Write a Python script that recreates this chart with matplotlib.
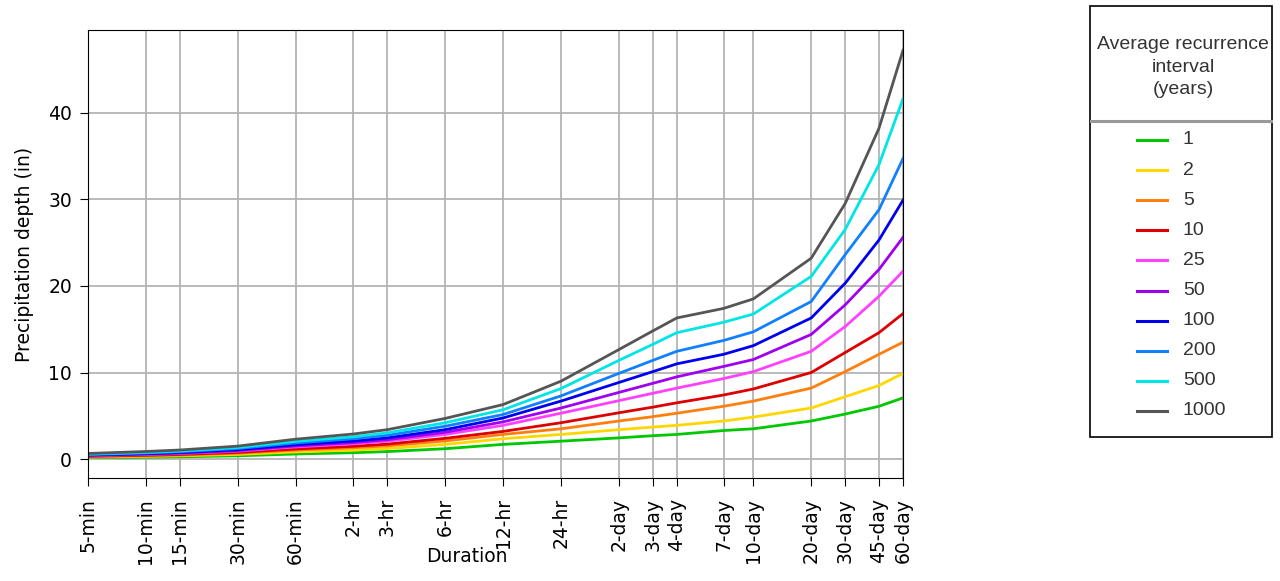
import numpy as np
import matplotlib.pyplot as plt
from matplotlib.lines import Line2D
from matplotlib.patches import Rectangle
from matplotlib.ticker import NullLocator

# durations in minutes
durations = [5, 10, 15, 30, 60, 120, 180, 360, 720, 1440,
             2880, 4320, 5760, 10080, 14400, 28800, 43200, 64800, 86400]
dur_labels = ["5-min", "10-min", "15-min", "30-min", "60-min", "2-hr", "3-hr",
              "6-hr", "12-hr", "24-hr", "2-day", "3-day", "4-day", "7-day",
              "10-day", "20-day", "30-day", "45-day", "60-day"]

ari = ["1", "2", "5", "10", "25", "50", "100", "200", "500", "1000"]

depth_1 = [0.17, 0.22, 0.27, 0.38, 0.59, 0.74, 0.87, 1.2, 1.7, 2.07,
           2.45, 2.7, 2.85, 3.3, 3.5, 4.4, 5.2, 6.1, 7.07]
depth_2 = [0.23, 0.32, 0.38, 0.54, 0.83, 1.04, 1.22, 1.7, 2.35, 2.85,
           3.4, 3.7, 3.9, 4.4, 4.85, 5.9, 7.2, 8.5, 9.9]
depth_5 = [0.29, 0.40, 0.47, 0.68, 1.04, 1.31, 1.53, 2.1, 2.85, 3.5,
           4.4, 4.9, 5.3, 6.1, 6.7, 8.2, 10.1, 12.1, 13.5]
depth_10 = [0.33, 0.45, 0.54, 0.77, 1.17, 1.48, 1.73, 2.4, 3.2, 4.2,
            5.35, 6.0, 6.5, 7.4, 8.1, 10.0, 12.3, 14.6, 16.8]
depth_25 = [0.40, 0.54, 0.64, 0.92, 1.40, 1.77, 2.07, 2.85, 3.9, 5.3,
            6.75, 7.6, 8.2, 9.3, 10.1, 12.45, 15.3, 18.8, 21.7]
depth_50 = [0.43, 0.58, 0.69, 0.99, 1.52, 1.91, 2.24, 3.1, 4.3, 5.9,
            7.7, 8.75, 9.5, 10.7, 11.5, 14.4, 17.8, 21.9, 25.6]
depth_100 = [0.47, 0.63, 0.76, 1.08, 1.66, 2.09, 2.45, 3.4, 4.75, 6.7,
             8.85, 10.1, 11.0, 12.1, 13.1, 16.3, 20.3, 25.3, 29.9]
depth_200 = [0.53, 0.71, 0.85, 1.22, 1.86, 2.35, 2.75, 3.8, 5.15, 7.3,
             9.9, 11.4, 12.45, 13.7, 14.7, 18.2, 23.6, 28.8, 34.7]
depth_500 = [0.58, 0.78, 0.93, 1.34, 2.05, 2.58, 3.03, 4.2, 5.7, 8.15,
             11.4, 13.25, 14.6, 15.8, 16.75, 21.1, 26.5, 34.0, 41.6]
depth_1000 = [0.65, 0.88, 1.05, 1.5, 2.3, 2.9, 3.4, 4.7, 6.3, 9.0,
              12.65, 14.8, 16.3, 17.4, 18.5, 23.2, 29.5, 38.2, 47.2]

series = [depth_1, depth_2, depth_5, depth_10, depth_25, depth_50,
          depth_100, depth_200, depth_500, depth_1000]
colors = ["#00c800", "#ffd700", "#ff7f0e", "#dd0000", "#ff40ff",
          "#a000f0", "#0000ee", "#1080ff", "#00e5e5", "#555555"]

W, H = 1280, 581
fig = plt.figure(figsize=(W / 100, H / 100), dpi=100)
ax = fig.add_axes([88 / W, 1 - 478 / H, (903 - 88) / W, (478 - 30) / H])

for vals, c, lab in zip(series, colors, ari):
    ax.plot(durations, vals, color=c, lw=2, label=lab)

ax.set_xscale("log")
ax.set_xlim(durations[0], durations[-1])
ax.set_xticks(durations)
ax.set_xticklabels(dur_labels, rotation=90, fontsize=13.5)
ax.xaxis.set_minor_locator(NullLocator())
ax.set_yticks([0, 10, 20, 30, 40])
ax.tick_params(axis="y", labelsize=13.5)
ax.tick_params(axis="both", length=5.5, pad=6)
ax.tick_params(axis="x", pad=9)
ax.grid(True, color="#b4b4b4", lw=1.3)
ax.set_ylabel("Precipitation depth (in)", fontsize=13.5, labelpad=10)
fig.text(467 / W, 1 - 557 / H, "Duration", fontsize=13.5,
         ha="center", va="center")

# legend box drawn by hand
fx = lambda x: x / W
fy = lambda y: 1 - y / H
fig.add_artist(Rectangle((fx(1090), fy(437)), fx(1272) - fx(1090),
                         fy(6) - fy(437), transform=fig.transFigure,
                         fill=False, ec="black", lw=1.2))
fig.text(fx(1183), fy(67), "Average recurrence\ninterval\n(years)",
         ha="center", va="center", fontsize=14, color="#333333",
         family="Liberation Sans", linespacing=1.45)
fig.add_artist(Line2D([fx(1091), fx(1271)], [fy(120.5), fy(120.5)],
                      transform=fig.transFigure, color="#999999", lw=2.2))
for i, (c, lab) in enumerate(zip(colors, ari)):
    y = 140 + 30.1 * i
    fig.add_artist(Line2D([fx(1137), fx(1167)], [fy(y), fy(y)],
                          transform=fig.transFigure, color=c, lw=2.2))
    fig.text(fx(1183), fy(y), lab, ha="left", va="center", fontsize=14,
             color="#333333", family="Liberation Sans")

fig.savefig("out.png", dpi=100)
